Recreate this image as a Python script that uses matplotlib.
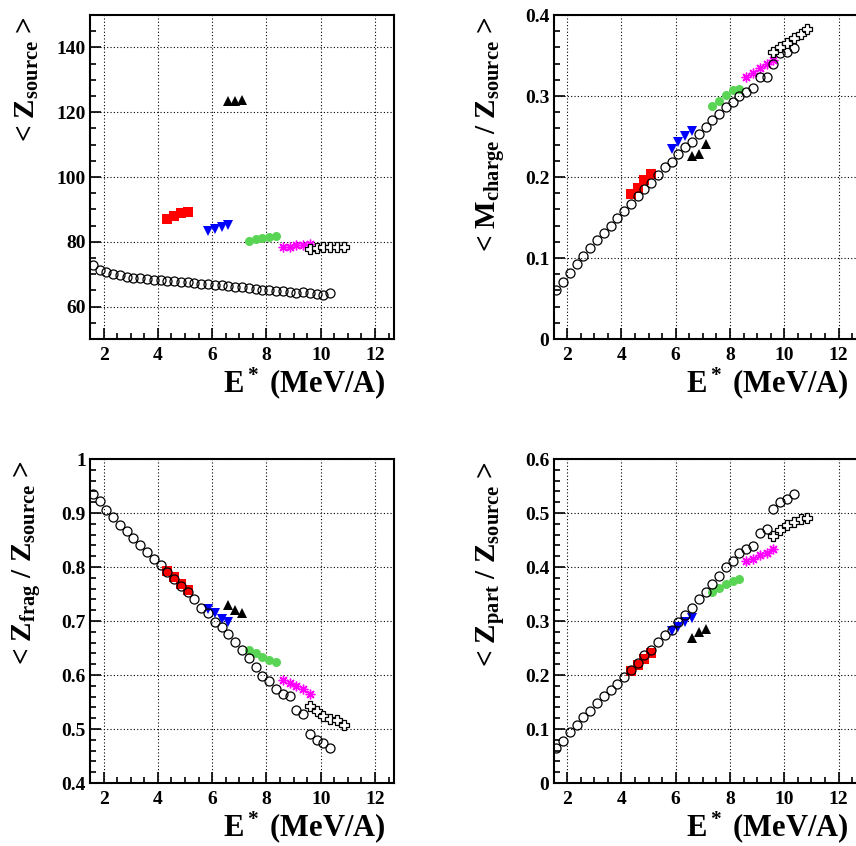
import numpy as np
import matplotlib
matplotlib.use('Agg')
import matplotlib.pyplot as plt
from matplotlib.ticker import MultipleLocator

# Fonte tipo Times em negrito, como nos graficos do ROOT
plt.rcParams['font.family'] = ['Liberation Serif', 'DejaVu Serif']
plt.rcParams['font.weight'] = 'bold'
plt.rcParams['mathtext.fontset'] = 'custom'
plt.rcParams['mathtext.rm'] = 'Liberation Serif:bold'
plt.rcParams['mathtext.it'] = 'Liberation Serif:bold'
plt.rcParams['mathtext.bf'] = 'Liberation Serif:bold'

# Energia de excitacao (MeV/A) de cada serie
e_circ = [1.60, 1.85, 2.10, 2.35, 2.60, 2.85, 3.10, 3.35, 3.60, 3.85,
          4.10, 4.35, 4.60, 4.85, 5.10, 5.35, 5.60, 5.85, 6.10, 6.35,
          6.60, 6.85, 7.10, 7.35, 7.60, 7.85, 8.10, 8.35, 8.60, 8.85,
          9.10, 9.35, 9.60, 9.85, 10.10, 10.35]
e_red = [4.35, 4.60, 4.85, 5.10]
e_blue = [5.85, 6.10, 6.35, 6.60]
e_black = [6.60, 6.85, 7.10]
e_green = [7.35, 7.60, 7.85, 8.10, 8.35]
e_mag = [8.60, 8.85, 9.10, 9.35, 9.60]
e_cross = [9.60, 9.85, 10.10, 10.35, 10.60, 10.85]

# <Z_source>
zs_circ = [72.8, 71.4, 70.7, 70.2, 69.6, 69.2, 68.9, 68.7, 68.5, 68.3,
           68.1, 68.0, 67.8, 67.7, 67.5, 67.3, 67.1, 67.0, 66.8, 66.6,
           66.3, 66.1, 65.9, 65.7, 65.5, 65.2, 65.0, 64.9, 64.7, 64.5,
           64.2, 64.4, 64.2, 63.9, 63.7, 64.2]
zs_red = [87.1, 87.9, 88.8, 89.3]
zs_blue = [83.3, 84.0, 84.5, 85.1]
zs_black = [123.4, 123.6, 123.9]
zs_green = [80.4, 80.9, 81.2, 81.5, 81.9]
zs_mag = [78.5, 78.4, 79.1, 79.0, 79.4]
zs_cross = [77.8, 78.1, 78.4, 78.5, 78.4, 78.4]

# <M_charge / Z_source>
mc_circ = [0.060, 0.070, 0.082, 0.093, 0.102, 0.112, 0.122, 0.131, 0.140, 0.149,
           0.158, 0.167, 0.176, 0.185, 0.193, 0.203, 0.212, 0.219, 0.228, 0.237,
           0.243, 0.253, 0.262, 0.270, 0.278, 0.287, 0.293, 0.300, 0.305, 0.310,
           0.323, 0.323, 0.339, 0.353, 0.354, 0.359]
mc_red = [0.179, 0.186, 0.196, 0.204]
mc_blue = [0.235, 0.243, 0.251, 0.257]
mc_black = [0.226, 0.229, 0.241]
mc_green = [0.288, 0.294, 0.301, 0.307, 0.309]
mc_mag = [0.323, 0.329, 0.334, 0.340, 0.345]
mc_cross = [0.354, 0.360, 0.366, 0.372, 0.377, 0.383]

# <Z_frag / Z_source>
zf_circ = [0.936, 0.923, 0.906, 0.893, 0.878, 0.866, 0.853, 0.840, 0.827, 0.815,
           0.803, 0.790, 0.778, 0.765, 0.753, 0.740, 0.725, 0.715, 0.699, 0.688,
           0.675, 0.661, 0.647, 0.631, 0.615, 0.599, 0.588, 0.574, 0.565, 0.561,
           0.536, 0.528, 0.491, 0.480, 0.475, 0.464]
zf_red = [0.792, 0.781, 0.769, 0.758]
zf_blue = [0.723, 0.715, 0.703, 0.698]
zf_black = [0.729, 0.721, 0.715]
zf_green = [0.647, 0.641, 0.633, 0.627, 0.624]
zf_mag = [0.590, 0.585, 0.579, 0.575, 0.565]
zf_cross = [0.543, 0.533, 0.524, 0.519, 0.516, 0.508]

# <Z_part / Z_source>
zp_circ = [0.065, 0.077, 0.094, 0.108, 0.122, 0.134, 0.148, 0.161, 0.172, 0.184,
           0.196, 0.210, 0.222, 0.237, 0.247, 0.261, 0.275, 0.284, 0.299, 0.312,
           0.324, 0.340, 0.354, 0.369, 0.383, 0.400, 0.411, 0.426, 0.434, 0.438,
           0.463, 0.471, 0.508, 0.520, 0.525, 0.536]
zp_red = [0.208, 0.219, 0.230, 0.241]
zp_blue = [0.282, 0.288, 0.299, 0.306]
zp_black = [0.269, 0.279, 0.285]
zp_green = [0.353, 0.361, 0.369, 0.375, 0.377]
zp_mag = [0.411, 0.415, 0.422, 0.426, 0.434]
zp_cross = [0.457, 0.469, 0.477, 0.483, 0.488, 0.491]

ylabels = [r'< Z$_{\rm source}$ >',
           r'< M$_{\rm charge}$ / Z$_{\rm source}$ >',
           r'< Z$_{\rm frag}$ / Z$_{\rm source}$ >',
           r'< Z$_{\rm part}$ / Z$_{\rm source}$ >']
xlabel = r'E$^{\rm *}$ (MeV/A)'

W, H = 856, 846
fig = plt.figure(figsize=(W / 100, H / 100), dpi=100)


def px_axes(x0, y0, x1, y1):
    # caixa em pixels (topo = y0) -> fracao da figura
    return fig.add_axes([x0 / W, 1 - y1 / H, (x1 - x0) / W, (y1 - y0) / H])


panels = [
    (90, 15, 394, 339, (zs_circ, zs_red, zs_blue, zs_black, zs_green, zs_mag, zs_cross), (50, 150), 20, 5),
    (553.5, 15, 857.5, 339, (mc_circ, mc_red, mc_blue, mc_black, mc_green, mc_mag, mc_cross), (0, 0.4), 0.1, 0.02),
    (90, 459, 394, 783, (zf_circ, zf_red, zf_blue, zf_black, zf_green, zf_mag, zf_cross), (0.4, 1.0), 0.1, 0.02),
    (553.5, 459, 857.5, 783, (zp_circ, zp_red, zp_blue, zp_black, zp_green, zp_mag, zp_cross), (0, 0.6), 0.1, 0.02),
]

for i, (x0, y0, x1, y1, vals, ylim, major, minor) in enumerate(panels):
    ax = px_axes(x0, y0, x1, y1)
    circ, red, blue, black, green, mag, cross = vals

    ax.plot(e_red, red, 's', color='#ff0000', ms=6.5, mew=0, zorder=3)
    ax.plot(e_blue, blue, 'v', color='#0000ff', ms=7, mew=0, zorder=3)
    ax.plot(e_black, black, '^', color='black', ms=7, mew=0, zorder=3)
    ax.plot(e_green, green, 'o', color='#59d454', ms=6.5, mew=0, zorder=3)
    ax.plot(e_mag, mag, marker=(8, 2, 0), ls='none', color='#ff00ff', ms=7, mew=1.0, zorder=3)
    ax.plot(e_circ, circ, 'o', mfc='none', mec='black', ms=6.5, mew=0.9, zorder=4)
    ax.plot(e_cross, cross, 'P', mfc='white', mec='black', ms=7.5, mew=0.9, zorder=5)

    ax.set_xlim(1.5, 12.7)
    ax.set_ylim(*ylim)
    ax.xaxis.set_major_locator(MultipleLocator(2))
    ax.xaxis.set_minor_locator(MultipleLocator(0.5))
    ax.yaxis.set_major_locator(MultipleLocator(major))
    ax.yaxis.set_minor_locator(MultipleLocator(minor))
    ax.grid(True, which='major', color='black', ls=(0, (1, 2)), lw=0.8)
    ax.tick_params(which='both', direction='in', top=False, right=False, width=1.2,
                   labelsize=14)
    ax.tick_params(which='major', length=8)
    ax.tick_params(which='minor', length=4)
    ax.tick_params(axis='x', pad=6)
    ax.tick_params(axis='y', pad=3)
    for sp in ax.spines.values():
        sp.set_linewidth(1.5)
    if ylim[0] == 0:
        ax.set_yticks([0, 0.1, 0.2, 0.3, 0.4, 0.5, 0.6][:int(round(ylim[1] / 0.1)) + 1])
        ax.set_yticklabels(['0'] + ['%.1f' % v for v in ax.get_yticks()[1:]])
    if i == 2:
        ax.set_yticks([0.4, 0.5, 0.6, 0.7, 0.8, 0.9, 1.0])
        ax.set_yticklabels(['0.4', '0.5', '0.6', '0.7', '0.8', '0.9', '1'])

    # rotulos no estilo ROOT: eixo y no topo, eixo x alinhado a direita
    fig.text((x0 - 63) / W, 1 - (y0 + 2) / H, ylabels[i], rotation=90,
             ha='center', va='top', fontsize=21, fontweight='bold')
    fig.text((x1 - 8.5) / W, 1 - (y1 + 53) / H, xlabel,
             ha='right', va='baseline', fontsize=22, fontweight='bold')

fig.savefig('out.png', dpi=100)
